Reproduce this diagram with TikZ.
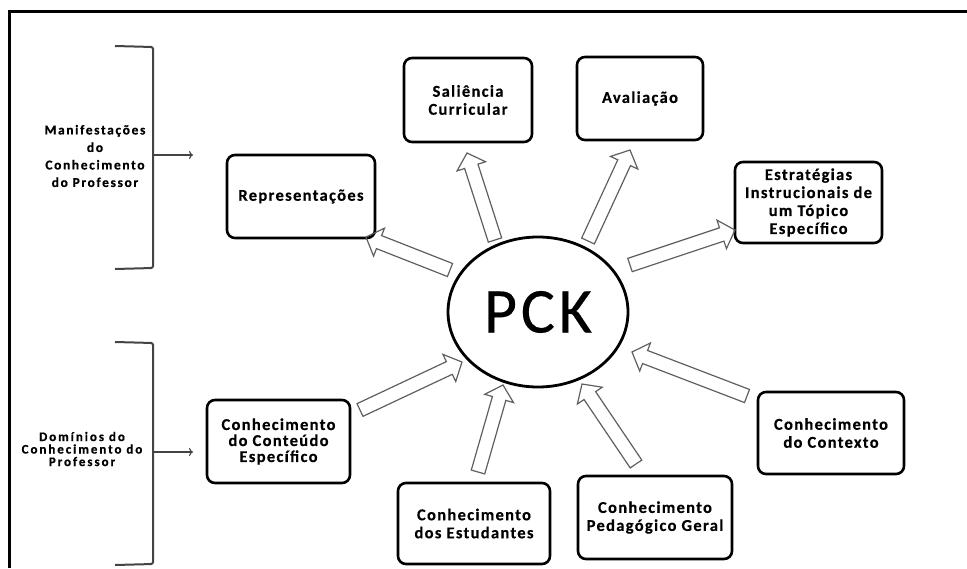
\documentclass[tikz,border=0pt]{standalone}
\usepackage{fontspec}
\setmainfont{Carlito}
\newfontfamily\labelfont{Carlito}[LetterSpace=8, FakeBold=0.4]
\newfontfamily\sidefont{Carlito}[LetterSpace=12, FakeBold=0.6]
\newfontfamily\sidefontwide{Carlito}[LetterSpace=15, FakeBold=0.6]
\newfontfamily\titlefont{Carlito}[LetterSpace=6, FakeBold=0.3]
\usetikzlibrary{calc,shapes.geometric,arrows.meta}

\definecolor{arrowgray}{RGB}{95,95,95}
\definecolor{bracketgray}{RGB}{68,68,68}

% hollow block arrow from tail coordinate #1 to tip coordinate #2
\newcommand\hollowarrow[2]{%
  \coordinate (#1base) at ($(#2)!14pt!(#1)$);
  \draw[blockarrow]
    ($(#1)!7pt!90:(#2)$) -- ($(#1base)!7pt!90:(#2)$) --
    ($(#1base)!15pt!90:(#2)$) -- (#2) --
    ($(#1base)!15pt!-90:(#2)$) -- ($(#1base)!7pt!-90:(#2)$) --
    ($(#1)!7pt!-90:(#2)$) -- cycle;
}

\begin{document}
\begin{tikzpicture}[x=1pt,y=-1pt,
  box/.style={draw, line width=2.6pt, rounded corners=8pt, align=center,
    inner sep=2pt, font=\labelfont\bfseries\fontsize{16.5}{18}\selectfont},
  sidelabel/.style={align=center, inner sep=0pt},
  blockarrow/.style={draw=arrowgray, line width=1.2pt, line join=miter},
  bracket/.style={draw=bracketgray, line width=2pt, rounded corners=2pt},
  bracketarrow/.style={draw=bracketgray, line width=1.2pt,
    -{To[length=4pt,width=8pt]}},
  frame/.style={draw=black, line width=3pt}]

\useasboundingbox (0,0) rectangle (967,568);

% outer frame (top and left edges)
\draw[frame] (9,568) -- (9,11) -- (967,11);

% central concept
\node[ellipse, draw, line width=2.8pt, minimum width=180pt, minimum height=150pt,
  inner sep=0pt, font=\titlefont\fontsize{64}{64}\selectfont] (pck) at (538,312) {PCK};

% manifestations
\node[box, minimum width=128pt, minimum height=84pt] (sal) at (468,100) {Saliência\\Curricular};
\node[box, minimum width=126pt, minimum height=83pt] (ava) at (640,98.5) {Avaliação};
\node[box, minimum width=148pt, minimum height=83pt] (rep) at (301,196.5) {Representações};
\node[box, minimum width=147pt, minimum height=81pt] (est) at (808.5,202.5)
  {Estratégias\\Instrucionais de\\um Tópico\\Específico};

% knowledge domains
\node[box, minimum width=146pt, minimum height=82pt] (ctx) at (831,433) {Conhecimento\\do Contexto};
\node[box, minimum width=154pt, minimum height=83pt] (ped) at (655,517.5) {Conhecimento\\Pedagógico Geral};
\node[box, minimum width=152pt, minimum height=81pt] (stu) at (474,523.5) {Conhecimento\\dos Estudantes};
\node[box, minimum width=143pt, minimum height=83pt,
  font=\labelfont\bfseries\fontsize{16.5}{16}\selectfont] (con) at (278.5,441.5)
  {Conhecimento\\do Conteúdo\\Específico};

% block arrow end points
\coordinate (t-rep) at (450,270);  \coordinate (h-rep) at (366,237);
\coordinate (t-sal) at (495,240);  \coordinate (h-sal) at (467,153);
\coordinate (t-ava) at (588,241);  \coordinate (h-ava) at (630,150);
\coordinate (t-est) at (630,265);  \coordinate (h-est) at (735,230);
\coordinate (t-ctx) at (747,396);  \coordinate (h-ctx) at (632,352);
\coordinate (t-ped) at (636,464);  \coordinate (h-ped) at (582,384);
\coordinate (t-stu) at (478,472);  \coordinate (h-stu) at (503,385);
\coordinate (t-con) at (360,410);  \coordinate (h-con) at (462,362);

\hollowarrow{t-rep}{h-rep}
\hollowarrow{t-sal}{h-sal}
\hollowarrow{t-ava}{h-ava}
\hollowarrow{t-est}{h-est}
\hollowarrow{t-ctx}{h-ctx}
\hollowarrow{t-ped}{h-ped}
\hollowarrow{t-stu}{h-stu}
\hollowarrow{t-con}{h-con}

% side labels with brackets
\node[sidelabel, font=\sidefont\bfseries\fontsize{13.5}{17.5}\selectfont] (man) at (95,156)
  {Manifestações\\do\\Conhecimento\\do Professor};
\node[sidelabel, font=\sidefontwide\bfseries\fontsize{13}{12.5}\selectfont] (dom) at (82,449)
  {Domínios do\\Conhecimento do\\Professor};

\draw[bracket] (115,46) -- (153,47) -- (153,268) -- (115,269);
\draw[bracket] (115,342) -- (153,343) -- (153,564) -- (115,565);

\coordinate (b-man) at (154,155); \coordinate (e-man) at (193,155);
\coordinate (b-dom) at (154,452); \coordinate (e-dom) at (193,452);
\draw[bracketarrow] (b-man) -- (e-man);
\draw[bracketarrow] (b-dom) -- (e-dom);

\end{tikzpicture}
\end{document}
